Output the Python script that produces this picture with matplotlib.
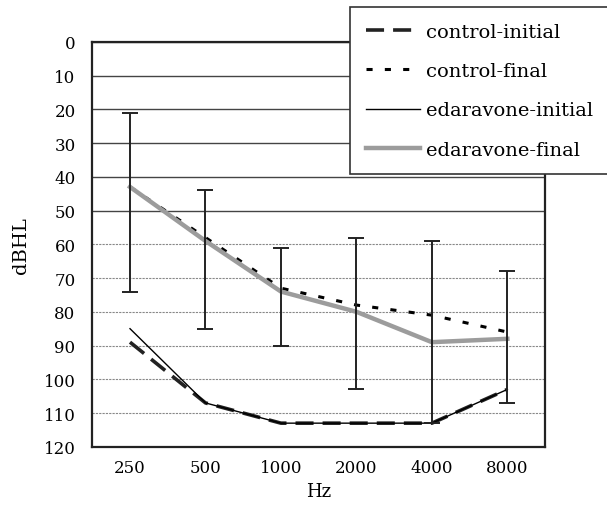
import numpy as np
import matplotlib
matplotlib.use("Agg")
import matplotlib.pyplot as plt

# ── Data ─────────────────────────────────────────────────────────────────────
freqs = ["250", "500", "1000", "2000", "4000", "8000"]

control_initial   = [89, 107, 113, 113, 113, 103]
control_final     = [43, 58, 73, 78, 81, 86]
edaravone_initial = [85, 107, 113, 113, 113, 103]
edaravone_final   = [43, 59, 74, 80, 89, 88]

# error bar ends (dBHL)
err_top    = [21, 44, 61, 58, 59, 68]
err_bottom = [74, 85, 90, 103, 113, 107]

plt.rcParams["font.family"] = ["DejaVu Serif"]

fig = plt.figure(figsize=(6.07, 5.10), dpi=100)
ax = fig.add_axes([0.152, 0.122, 0.746, 0.794])

x = np.arange(len(freqs))

ax.plot(x, control_final, color="black", lw=2.2, linestyle=(0, (2, 4)),
        label="control-final", zorder=3)
ax.plot(x, edaravone_final, color="#9c9c9c", lw=3.2,
        label="edaravone-final", zorder=4)
ax.plot(x, control_initial, color="#222222", lw=2.6, linestyle=(0, (5, 2.5)),
        label="control-initial", zorder=3)
ax.plot(x, edaravone_initial, color="black", lw=1.0,
        label="edaravone-initial", zorder=3)

mid = np.array(edaravone_final, dtype=float)
yerr = [mid - np.array(err_top), np.array(err_bottom) - mid]
ax.errorbar(x, mid, yerr=yerr, fmt="none", ecolor="#222222", elinewidth=1.4,
            capsize=6, capthick=1.4, zorder=5)

ax.set_xlim(-0.5, len(freqs) - 0.5)
ax.set_ylim(120, 0)
ax.set_yticks(np.arange(0, 121, 10))
ax.set_xticks(x)
ax.set_xticklabels(freqs)
ax.tick_params(axis="both", length=0, labelsize=12)
ax.tick_params(axis="y", pad=12)
ax.tick_params(axis="x", pad=9)

ax.yaxis.grid(True)
for i, gl in enumerate(ax.get_ygridlines()):
    if i <= 5:
        gl.set_color("#444444"); gl.set_linewidth(1.0)
    else:
        gl.set_color("#888888"); gl.set_linewidth(0.8)
        gl.set_linestyle((0, (2, 1)))
ax.set_axisbelow(True)

for sp in ax.spines.values():
    sp.set_linewidth(1.6)
    sp.set_color("#222222")

ax.set_ylabel("dBHL", fontsize=14, labelpad=10)
ax.set_xlabel("Hz", fontsize=13, labelpad=4)

handles, labels = ax.get_legend_handles_labels()
order = ["control-initial", "control-final", "edaravone-initial", "edaravone-final"]
hmap = dict(zip(labels, handles))
leg = fig.legend([hmap[k] for k in order], order, loc="upper left",
                 bbox_to_anchor=(350 / 607, 1 - 8 / 510), fontsize=14,
                 frameon=True, fancybox=False, framealpha=1, edgecolor="#333333",
                 handlelength=2.8, handletextpad=0.3, labelspacing=1.1,
                 borderpad=0.8, borderaxespad=0)
leg.get_frame().set_linewidth(1.2)

fig.savefig("out.png", dpi=100)
